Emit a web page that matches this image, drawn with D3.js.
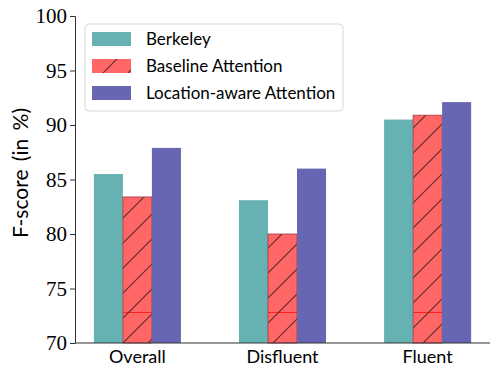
<!DOCTYPE html>
<html>
<head>
<meta charset="utf-8">
<script src="https://cdn.jsdelivr.net/npm/d3@7"></script>
<style>
  body { margin: 0; background: #fff; }
</style>
</head>
<body>
<div id="chart"></div>
<script>
var categories = ["Overall", "Disfluent", "Fluent"];
var seriesNames = ["Berkeley", "Baseline Attention", "Location-aware Attention"];
var berkeley = [85.5, 83.1, 90.5];
var baselineAttention = [83.4, 80.0, 90.9];
var locationAware = [87.9, 86.0, 92.1];
var baselineInnerLine = [72.8, 72.8, 72.8];
var yTicks = [70, 75, 80, 85, 90, 95, 100];

var margin = {top: 16, right: 0, bottom: 24, left: 75};
var width = 490 - margin.left - margin.right,
    height = 367 - margin.top - margin.bottom;

var colors = ["#66b2b2", "#ff6666", "#6666b2"];
var series = [berkeley, baselineAttention, locationAware];

// x in "category units" like matplotlib: bars at i-0.2, i, i+0.2
var xScale = d3.scaleLinear()
    .domain([-0.43, 2.43])
    .range([0, width]);
var barW = xScale(0.2) - xScale(0);

var yScale = d3.scaleLinear()
    .domain([70, 100])
    .range([height, 0]);

var svg = d3.select("#chart").append("svg")
    .attr("width", 490)
    .attr("height", 367);

var defs = svg.append("defs");
defs.append("pattern")
    .attr("id", "hatch")
    .attr("patternUnits", "userSpaceOnUse")
    .attr("width", 25)
    .attr("height", 25)
    .append("path")
    .attr("d", "M-2,2 L2,-2 M0,25 L25,0 M23,27 L27,23")
    .attr("stroke", "#5a2a2a")
    .attr("stroke-width", 1.1);

var g = svg.append("g")
    .attr("transform", "translate(" + margin.left + "," + margin.top + ")");

// bars
series.forEach(function(vals, s) {
    var grp = g.append("g").attr("class", "serie");
    grp.selectAll("rect.fill")
        .data(vals)
        .enter().append("rect")
        .attr("x", function(d, i) { return xScale(i + (s - 1) * 0.2 - 0.1); })
        .attr("y", function(d) { return yScale(d); })
        .attr("width", barW)
        .attr("height", function(d) { return yScale(70) - yScale(d); })
        .attr("fill", colors[s]);
    if (s === 1) {
        grp.selectAll("line.inner")
            .data(baselineInnerLine)
            .enter().append("line")
            .attr("x1", function(d, i) { return xScale(i - 0.1); })
            .attr("x2", function(d, i) { return xScale(i + 0.1); })
            .attr("y1", function(d) { return yScale(d); })
            .attr("y2", function(d) { return yScale(d); })
            .attr("stroke", "#ff2020")
            .attr("stroke-width", 1);
        grp.selectAll("rect.hatch")
            .data(vals)
            .enter().append("rect")
            .attr("x", function(d, i) { return xScale(i - 0.1); })
            .attr("y", function(d) { return yScale(d); })
            .attr("width", barW)
            .attr("height", function(d) { return yScale(70) - yScale(d); })
            .attr("fill", "url(#hatch)")
            .attr("stroke", "#a03a4a")
            .attr("stroke-width", 0.8);
    }
});

// axes
var yAxis = d3.axisLeft(yScale).tickValues(yTicks).tickSize(5).tickPadding(3);
g.append("g")
    .attr("class", "y axis")
    .call(yAxis)
    .call(function(a) {
        a.select(".domain").attr("stroke", "#333").attr("stroke-width", 1);
        a.selectAll(".tick line").attr("stroke", "#333");
        a.selectAll(".tick text")
            .attr("fill", "#000")
            .style("font-family", "'Liberation Serif', serif")
            .style("font-size", "21px");
    });

g.append("line")
    .attr("x1", 0).attr("x2", width)
    .attr("y1", height).attr("y2", height)
    .attr("stroke", "#333").attr("stroke-width", 1.2);

g.selectAll(".xlabel")
    .data(categories)
    .enter().append("text")
    .attr("class", "xlabel")
    .attr("x", function(d, i) { return xScale(i); })
    .attr("y", height + 20)
    .attr("text-anchor", "middle")
    .style("font-family", "Lato, sans-serif")
    .style("font-size", "18px")
    .text(function(d) { return d; });

// y label
svg.append("text")
    .attr("text-anchor", "middle")
    .attr("transform", "translate(28,173)rotate(-90)")
    .style("font-family", "Lato, sans-serif")
    .style("font-size", "21px")
    .style("word-spacing", "3px")
    .text("F-score (in %)");

// legend
var legend = svg.append("g").attr("transform", "translate(85,24)");
legend.append("rect")
    .attr("width", 258).attr("height", 87)
    .attr("rx", 4)
    .attr("fill", "#fff").attr("fill-opacity", 0.8)
    .attr("stroke", "#d8d8d8");

var items = legend.selectAll(".legend")
    .data(seriesNames)
    .enter().append("g")
    .attr("class", "legend")
    .attr("transform", function(d, i) { return "translate(7," + (8 + i * 27) + ")"; });

items.append("rect")
    .attr("width", 39).attr("height", 14)
    .attr("fill", function(d, i) { return colors[i]; });
items.filter(function(d, i) { return i === 1; })
    .append("rect")
    .attr("width", 39).attr("height", 14)
    .attr("fill", "url(#hatch)");

items.append("text")
    .attr("x", 54)
    .attr("y", 7)
    .attr("dy", ".35em")
    .style("font-family", "Lato, sans-serif")
    .style("font-size", "17px")
    .text(function(d) { return d; });
</script>
</body>
</html>
